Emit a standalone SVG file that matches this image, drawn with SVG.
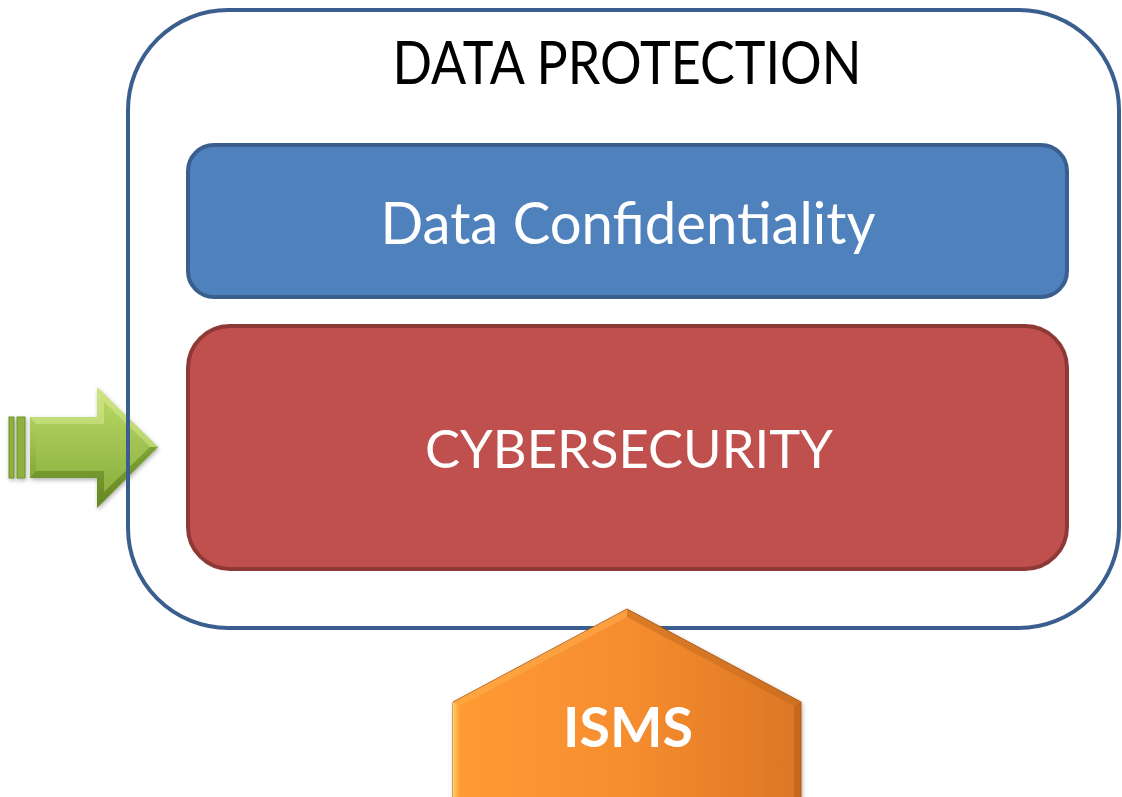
<svg xmlns="http://www.w3.org/2000/svg" width="1122" height="797" viewBox="0 0 1122 797">
  <style>
    .label { font-family: Lato, "Liberation Sans", Arial, sans-serif; text-anchor: middle; }
    .frame { fill: none; stroke: #3A5F8E; stroke-width: 4; }
    .conf { fill: #4F81BD; stroke: #3A5F8E; stroke-width: 4; }
    .cyber { fill: #C0504D; stroke: #8E3936; stroke-width: 4; }
  </style>
  <defs>
    <linearGradient id="greenBody" x1="0" y1="0" x2="0" y2="1">
      <stop offset="0" stop-color="#C6E07A"/>
      <stop offset="0.45" stop-color="#9DC24C"/>
      <stop offset="1" stop-color="#6F9128"/>
    </linearGradient>
    <linearGradient id="greenFace" x1="0" y1="0" x2="0" y2="1">
      <stop offset="0" stop-color="#B4D462"/>
      <stop offset="1" stop-color="#8DB040"/>
    </linearGradient>
    <linearGradient id="orangeFace" x1="0" y1="0" x2="1" y2="0">
      <stop offset="0" stop-color="#FF9B33"/>
      <stop offset="0.5" stop-color="#F68D2F"/>
      <stop offset="1" stop-color="#DC7624"/>
    </linearGradient>
    <linearGradient id="orangeLeftEdge" x1="0" y1="0" x2="1" y2="0">
      <stop offset="0" stop-color="#FFD060"/>
      <stop offset="1" stop-color="#FF9B33"/>
    </linearGradient>
    <filter id="softShadow" x="-20%" y="-20%" width="140%" height="140%">
      <feDropShadow dx="1" dy="2" stdDeviation="2" flood-color="#000000" flood-opacity="0.3"/>
    </filter>
  </defs>

  <rect x="0" y="0" width="1122" height="797" fill="#ffffff"/>

  <!-- incoming arrow, sits behind the frame border -->
  <g id="arrow" filter="url(#softShadow)">
    <rect x="9" y="417" width="5" height="61" fill="#8DB040" stroke="#6F9128" stroke-width="1"/>
    <rect x="17" y="417" width="8" height="61" fill="#8DB040" stroke="#6F9128" stroke-width="1"/>
    <polygon points="30,417 97,417 97,387 158,447 97,508 97,478 30,478" fill="url(#greenBody)"/>
    <!-- bevel facets -->
    <polygon points="30,417 97,417 97,387 158,447 150,447 104,402 104,424 36,424" fill="#D4EA8C" opacity="0.55"/>
    <polygon points="36,424 104,424 104,402 150,447 104,492 104,471 36,471" fill="url(#greenFace)"/>
    <polygon points="30,478 97,478 97,508 158,447 150,447 104,492 104,471 36,471" fill="#5E7E1E" opacity="0.45"/>
  </g>

  <!-- outer frame -->
  <g id="data-protection">
    <rect class="frame" x="128" y="10" width="991" height="618" rx="100" ry="100"/>
    <text class="label" x="627" y="84" font-size="60" fill="#000000" textLength="469" lengthAdjust="spacingAndGlyphs">DATA PROTECTION</text>
  </g>

  <g id="data-confidentiality">
    <rect class="conf" x="188" y="145" width="879" height="152" rx="26" ry="26"/>
    <text class="label" x="628" y="244" font-size="58" fill="#ffffff" textLength="495" lengthAdjust="spacingAndGlyphs">Data Confidentiality</text>
  </g>

  <g id="cybersecurity">
    <rect class="cyber" x="188" y="326" width="879" height="243" rx="42" ry="42"/>
    <text class="label" x="629" y="468" font-size="53" fill="#ffffff" textLength="408" lengthAdjust="spacingAndGlyphs">CYBERSECURITY</text>
  </g>

  <!-- ISMS base, overlapping the frame border -->
  <g id="isms" filter="url(#softShadow)">
    <polygon points="453,702 627,609 801,702 801,800 453,800" fill="url(#orangeFace)" stroke="#A85A18" stroke-width="1"/>
    <polygon points="453,702 460,706 460,800 453,800" fill="url(#orangeLeftEdge)"/>
    <polygon points="801,702 794,706 794,800 801,800" fill="#B8621C" opacity="0.7"/>
    <polygon points="453,702 627,609 627,617 460,706" fill="#FFB050" opacity="0.5"/>
    <polygon points="801,702 627,609 627,617 794,706" fill="#C06A20" opacity="0.5"/>
    <text class="label" x="628" y="747" font-size="56" font-weight="bold" fill="#ffffff" textLength="130" lengthAdjust="spacingAndGlyphs">ISMS</text>
  </g>
</svg>
